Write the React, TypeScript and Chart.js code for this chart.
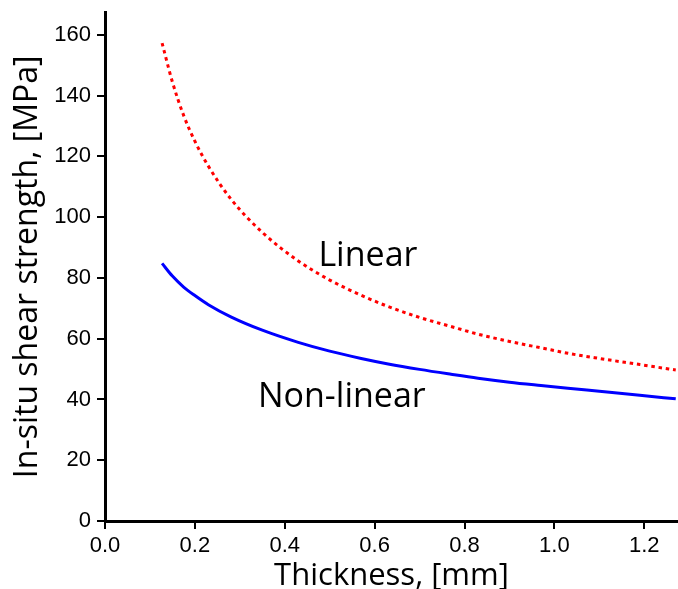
import React, { useEffect, useRef } from "react";
import { Chart, registerables } from "chart.js";

Chart.register(...registerables);

const thickness = [0.127, 0.15, 0.175, 0.2, 0.23, 0.28, 0.35, 0.43, 0.5, 0.57, 0.63, 0.7, 0.77, 0.83, 0.9, 0.97, 1.03, 1.1, 1.19, 1.27];
const linearStrength = [157.3, 144.5, 133.5, 125.0, 116.8, 106.0, 95.0, 85.6, 79.3, 74.3, 70.6, 67.0, 64.0, 61.5, 59.1, 57.0, 55.2, 53.5, 51.5, 49.7];
const nonLinearStrength = [84.8, 80.6, 77.0, 74.2, 71.2, 67.2, 62.8, 58.8, 55.9, 53.5, 51.7, 49.9, 48.3, 47.0, 45.7, 44.6, 43.7, 42.7, 41.4, 40.2];

const curveLabels = [
  { text: "Linear", x: 0.585, y: 84.0 },
  { text: "Non-linear", x: 0.527, y: 37.6 },
];

const X_MAX = 1.275;
const Y_MAX = 167.3;

const TICK_FONT = { family: '"Liberation Sans", Arial, sans-serif', size: 22 };
const TITLE_FAMILY = '"Open Sans", sans-serif';

export default function App() {
  const canvasRef = useRef<HTMLCanvasElement | null>(null);

  useEffect(() => {
    const canvas = canvasRef.current;
    if (!canvas) return;

    const labelPlugin = {
      id: "curveLabels",
      afterDatasetsDraw(chart: any) {
        const { ctx, scales } = chart;
        ctx.save();
        ctx.font = `34px ${TITLE_FAMILY}`;
        ctx.fillStyle = "#000";
        ctx.textAlign = "center";
        ctx.textBaseline = "alphabetic";
        for (const l of curveLabels) {
          ctx.fillText(l.text, scales.x.getPixelForValue(l.x), scales.y.getPixelForValue(l.y));
        }
        ctx.restore();
      },
    };

    const chart = new Chart(canvas, {
      type: "scatter",
      data: {
        datasets: [
          {
            label: "Linear",
            data: thickness.map((t, i) => ({ x: t, y: linearStrength[i] })),
            showLine: true,
            borderColor: "#ff0000",
            borderWidth: 3,
            borderDash: [3.5, 3.8],
            pointRadius: 0,
            cubicInterpolationMode: "monotone",
          },
          {
            label: "Non-linear",
            data: thickness.map((t, i) => ({ x: t, y: nonLinearStrength[i] })),
            showLine: true,
            borderColor: "#0000ff",
            borderWidth: 3,
            pointRadius: 0,
            cubicInterpolationMode: "monotone",
          },
        ],
      },
      options: {
        animation: false,
        responsive: false,
        layout: { padding: { top: 12.7, right: 0, left: 0, bottom: 0 } },
        plugins: { legend: { display: false }, tooltip: { enabled: false } },
        scales: {
          x: {
            type: "linear",
            min: 0,
            max: X_MAX,
            afterFit: (s: any) => {
              s.height = 68;
              s.paddingLeft = 0;
              s.paddingRight = 0;
            },
            ticks: {
              stepSize: 0.2,
              includeBounds: false,
              padding: 4,
              color: "#000",
              font: TICK_FONT,
              maxRotation: 0,
              callback: (v: any) => Number(v).toFixed(1),
            },
            grid: {
              drawOnChartArea: false,
              drawTicks: true,
              tickLength: 8,
              tickWidth: 2,
              tickColor: "#000",
              color: "#000",
              lineWidth: 2,
            },
            border: { display: true, color: "#000", width: 3 },
            title: {
              display: true,
              text: "Thickness, [mm]",
              color: "#000",
              font: { family: TITLE_FAMILY, size: 31, lineHeight: 0.8 },
              padding: 0,
            },
          },
          y: {
            type: "linear",
            min: 0,
            max: Y_MAX,
            afterFit: (s: any) => {
              s.width = 105;
              s.paddingTop = 0;
              s.paddingBottom = 0;
            },
            ticks: {
              stepSize: 20,
              includeBounds: false,
              padding: 6,
              color: "#000",
              font: TICK_FONT,
            },
            grid: {
              drawOnChartArea: false,
              drawTicks: true,
              tickLength: 8,
              tickWidth: 2,
              tickColor: "#000",
              color: "#000",
              lineWidth: 2,
            },
            border: { display: true, color: "#000", width: 3 },
            title: {
              display: true,
              text: "In-situ shear strength, [MPa]",
              color: "#000",
              font: { family: TITLE_FAMILY, size: 32, lineHeight: 1.2 },
              padding: { top: 8.5, bottom: 0 },
            },
          },
        },
      },
      plugins: [labelPlugin],
    } as any);

    return () => chart.destroy();
  }, []);

  return (
    <div style={{ position: "fixed", left: 0, top: 0, width: 678, height: 589, background: "#fff" }}>
      <canvas ref={canvasRef} width={678} height={589} style={{ display: "block" }} />
    </div>
  );
}
